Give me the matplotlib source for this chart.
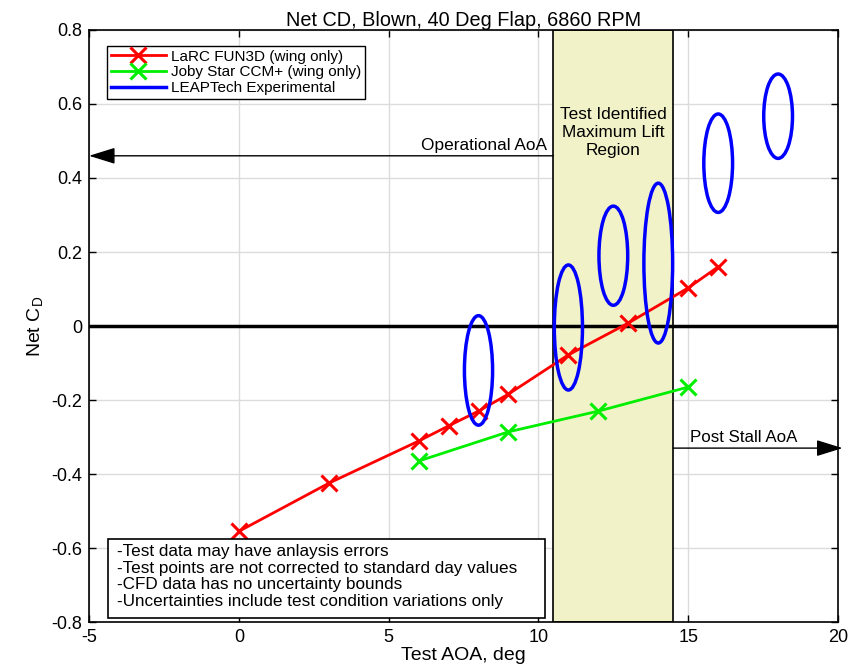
import matplotlib
matplotlib.use("Agg")
import matplotlib.pyplot as plt
from matplotlib.patches import Ellipse, Rectangle
from matplotlib.lines import Line2D

plt.rcParams['font.family'] = ['Liberation Sans', 'DejaVu Sans']
plt.rcParams['axes.unicode_minus'] = False

# LaRC FUN3D (wing only)
larc_aoa = [0, 3, 6, 7, 8, 9, 11, 13, 15, 16]
larc_cd = [-0.555, -0.425, -0.311, -0.270, -0.230, -0.184, -0.078, 0.008, 0.103, 0.160]

# Joby Star CCM+ (wing only)
joby_aoa = [6, 9, 12, 15]
joby_cd = [-0.365, -0.286, -0.230, -0.165]

# LEAPTech Experimental uncertainty ellipses
exp_aoa = [8, 11, 12.5, 14, 16, 18]
exp_cd = [-0.120, -0.004, 0.190, 0.170, 0.440, 0.567]
exp_aoa_half = [0.47, 0.47, 0.48, 0.48, 0.48, 0.48]
exp_cd_half = [0.148, 0.169, 0.134, 0.216, 0.133, 0.114]

stall_lo, stall_hi = 10.5, 14.5
oper_arrow_y = 0.46
post_arrow_y = -0.33

notes = ["-Test data may have anlaysis errors",
         "-Test points are not corrected to standard day values",
         "-CFD data has no uncertainty bounds",
         "-Uncertainties include test condition variations only"]

fig = plt.figure(figsize=(8.66, 6.71), dpi=100)
ax = fig.add_axes([0.1028, 0.0730, 0.8649, 0.8823])

ax.set_xlim(-5, 20)
ax.set_ylim(-0.8, 0.8)
ax.set_xticks([-5, 0, 5, 10, 15, 20])
ax.set_yticks([-0.8, -0.6, -0.4, -0.2, 0, 0.2, 0.4, 0.6, 0.8])
ax.set_yticklabels(['-0.8', '-0.6', '-0.4', '-0.2', '0', '0.2', '0.4', '0.6', '0.8'])
ax.grid(True, color='#dcdcdc', linewidth=1.0, zorder=0)
ax.set_axisbelow(True)
ax.tick_params(direction='in', top=True, right=True, labelsize=13, length=5, width=1, pad=5)
for s in ax.spines.values():
    s.set_linewidth(1.2)

# maximum-lift region
ax.add_patch(Rectangle((stall_lo, -0.8), stall_hi - stall_lo, 1.6,
                       facecolor='#f2f2c9', edgecolor='black', linewidth=1.2, zorder=1))
ax.text((stall_lo + stall_hi) / 2, 0.522, "Test Identified\nMaximum Lift\nRegion",
        ha='center', va='center', fontsize=12.4, linespacing=1.25, zorder=2)

ax.axhline(0, color='black', linewidth=2.5, zorder=2)

ax.plot(larc_aoa, larc_cd, color='#ff0000', marker='x', markersize=11, markeredgewidth=2.2,
        linewidth=2, zorder=4)
ax.plot(joby_aoa, joby_cd, color='#00ee00', marker='x', markersize=11, markeredgewidth=2.2,
        linewidth=2, zorder=4)
for x, y, hw, hh in zip(exp_aoa, exp_cd, exp_aoa_half, exp_cd_half):
    ax.add_patch(Ellipse((x, y), 2 * hw, 2 * hh, fill=False, edgecolor='#0000ff',
                         linewidth=2.5, zorder=5))

# AoA range arrows
arrow_kw = dict(arrowstyle='-|>,head_length=0.9,head_width=0.28', color='black', lw=1.0,
                mutation_scale=18, shrinkA=0, shrinkB=0)
ax.annotate("", xy=(-5, oper_arrow_y), xytext=(stall_lo, oper_arrow_y),
            arrowprops=arrow_kw, zorder=3)
ax.text(stall_lo - 0.2, oper_arrow_y + 0.008, "Operational AoA", ha='right', va='bottom',
        fontsize=12.4)
ax.annotate("", xy=(20.15, post_arrow_y), xytext=(stall_hi, post_arrow_y),
            arrowprops=arrow_kw, zorder=3, annotation_clip=False)
ax.text(stall_hi + 0.55, post_arrow_y + 0.008, "Post Stall AoA", ha='left', va='bottom',
        fontsize=12.2)

# notes box
ax.add_patch(Rectangle((0.0254, 0.0068), 0.5834, 0.1332, transform=ax.transAxes,
                       facecolor='white', edgecolor='black', linewidth=1.2, zorder=6))
ax.text(0.0374, 0.077, "\n".join(notes), transform=ax.transAxes, ha='left', va='center',
        fontsize=12.3, linespacing=1.15, zorder=7)

handles = [Line2D([], [], color='#ff0000', marker='x', markersize=11, markeredgewidth=2.2, linewidth=2),
           Line2D([], [], color='#00ee00', marker='x', markersize=11, markeredgewidth=2.2, linewidth=2),
           Line2D([], [], color='#0000ff', linewidth=2.5)]
leg = ax.legend(handles, ["LaRC FUN3D (wing only)", "Joby Star CCM+ (wing only)",
                          "LEAPTech Experimental"],
                loc='upper left', bbox_to_anchor=(0.024, 0.973), fontsize=11, fancybox=False,
                framealpha=1, edgecolor='black', borderpad=0.25, labelspacing=0.1,
                handlelength=3.6, handletextpad=0.35, borderaxespad=0)
leg.get_frame().set_linewidth(1.0)
leg.set_zorder(8)

ax.set_title("Net CD, Blown, 40 Deg Flap, 6860 RPM", fontsize=14.3, pad=3)
ax.set_xlabel("Test AOA, deg", fontsize=14, labelpad=1)
ax.set_ylabel("Net C$_\\mathregular{D}$", fontsize=14, labelpad=4)

fig.savefig("out.png", dpi=100)
